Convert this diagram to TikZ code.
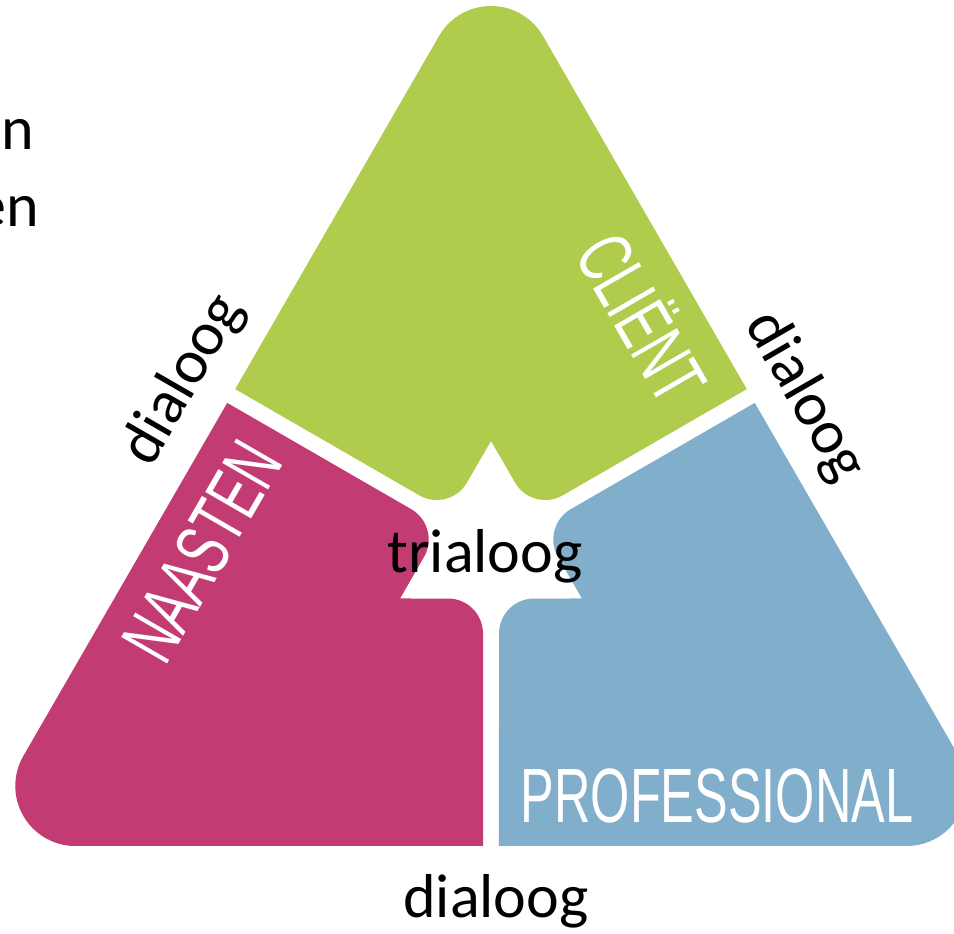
\documentclass[tikz,border=0pt]{standalone}
\usepackage{fontspec}
\usepackage{graphicx}
\newfontfamily\labelfont{Liberation Sans}
\newfontfamily\dialfont{Carlito}
\definecolor{cgreen}{RGB}{176,204,76}
\definecolor{cmag}{RGB}{194,59,114}
\definecolor{cblue}{RGB}{129,174,203}
\tikzset{
  lbl/.style={text=white, inner sep=0pt, font={\labelfont\fontsize{77}{82}\selectfont}, text height=55pt, text depth=0pt},
  dtxt/.style={text=black, inner sep=0pt, font={\dialfont\fontsize{62}{70}\selectfont}},
}
\begin{document}
\begin{tikzpicture}[x=1pt,y=1pt]
\useasboundingbox (0,0) rectangle (954,934);
\fill[white] (0,0) rectangle (954,934);
\clip (0,0) rectangle (954,934);
\foreach \ang/\col in {0/cgreen,120/cmag,-120/cblue}{
  \fill[\col, shift={(491,388)}, rotate=\ang]
    (-255.8,156.9) -- (-51.96,510.0)
    arc[start angle=150, end angle=30, radius=60]
    -- (255.8,156.9) -- (71.8,50.7)
    arc[start angle=300, end angle=210, radius=35]
    -- (0,105) -- (-24,63.5)
    arc[start angle=330, end angle=240, radius=35]
    -- cycle;
}
\node[lbl, rotate=-60] (client) at (642,616) {\scalebox{0.655}[1]{CLIËNT}};
\node[lbl, rotate=60] (naasten) at (201,383) {\scalebox{0.655}[1]{NAASTEN}};
\node[lbl] (prof) at (717,139) {\scalebox{0.655}[1]{PROFESSIONAL}};
\node[dtxt, anchor=base] (tria) at (485,361) {trialoog};
\node[dtxt, anchor=base] (dbottom) at (496,16) {dialoog};
\node[dtxt, rotate=60] (dleft) at (183.5,554) {dialoog};
\node[dtxt, rotate=-60] (dright) at (805,537) {dialoog};
\node[dtxt, anchor=base east] (cut1) at (34,784) {n};
\node[dtxt, anchor=base east] (cut2) at (39,707) {en};
\end{tikzpicture}
\end{document}
